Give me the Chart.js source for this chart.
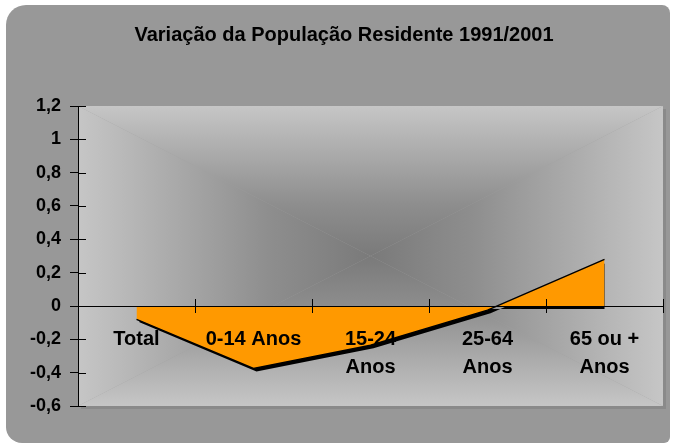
<!DOCTYPE html>
<html>
<head>
<meta charset="utf-8">
<script src="https://cdn.jsdelivr.net/npm/chart.js@4"></script>
<style>
  body { margin: 0; background: #fff; }
  #caixa {
    position: absolute; left: 6px; top: 5px;
    width: 664px; height: 438px;
    background: #989898;
    border-radius: 20px 8px 6px 16px;
    overflow: hidden;
  }
</style>
</head>
<body>
<div id="caixa"><canvas id="grafico" width="664" height="438"></canvas></div>
<script>
// dados
const titulo = 'Variação da População Residente 1991/2001';
const categorias = ['Total', '0-14 Anos', ['15-24', 'Anos'], ['25-64', 'Anos'], ['65 ou +', 'Anos']];
const variacao = [-0.08, -0.375, -0.235, -0.025, 0.28];
const eixoMin = -0.6;
const eixoMax = 1.2;
const eixoPasso = 0.2;

const fonte = "'Liberation Sans', Arial, sans-serif";

// fundo da área do gráfico: gradiente rectangular a partir do centro
const fundoPlot = {
    id: 'fundoPlot',
    beforeDraw(chart) {
        const { ctx, chartArea: a } = chart;
        const cx = (a.left + a.right) / 2, cy = (a.top + a.bottom) / 2;
        ctx.save();
        ctx.fillStyle = '#8a8a8a';
        ctx.fillRect(a.left + 3, a.top + 3, a.right - a.left, a.bottom - a.top);
        ctx.fillStyle = '#a0a0a0';
        ctx.fillRect(a.left, a.top, a.right - a.left, a.bottom - a.top);
        const tri = (x1, y1, x2, y2, gx, gy) => {
            const g = ctx.createLinearGradient(cx, cy, gx, gy);
            g.addColorStop(0, '#7a7a7a');
            g.addColorStop(0.35, '#8e8e8e');
            g.addColorStop(1, '#c6c6c6');
            ctx.fillStyle = g;
            ctx.beginPath();
            ctx.moveTo(cx, cy);
            ctx.lineTo(x1, y1);
            ctx.lineTo(x2, y2);
            ctx.closePath();
            ctx.fill();
        };
        tri(a.left, a.top, a.right, a.top, cx, a.top);
        tri(a.right, a.top, a.right, a.bottom, a.right, cy);
        tri(a.right, a.bottom, a.left, a.bottom, cx, a.bottom);
        tri(a.left, a.bottom, a.left, a.top, a.left, cy);
        ctx.restore();
    }
};

// sombra preta deslocada só sob o preenchimento da área
const sombra = {
    id: 'sombra',
    beforeDatasetsDraw(chart) {
        const c = chart.ctx;
        c.save();
        c.shadowColor = '#000';
        c.shadowOffsetX = 3;
        c.shadowOffsetY = 3;
        c.shadowBlur = 0;
    },
    beforeDatasetDraw(chart) {
        // o preenchimento já foi desenhado pelo filler; a linha fica sem sombra
        chart.ctx.shadowColor = 'rgba(0,0,0,0)';
    },
    afterDatasetsDraw(chart) {
        chart.ctx.restore();
    }
};

// marcas que atravessam os eixos (parte interior)
const marcas = {
    id: 'marcas',
    afterDraw(chart) {
        const { ctx, scales: { x, y }, chartArea: a } = chart;
        ctx.save();
        ctx.strokeStyle = '#000';
        ctx.lineWidth = 1;
        ctx.beginPath();
        y.ticks.forEach((t, i) => {
            const py = Math.round(y.getPixelForTick(i)) + 0.5;
            ctx.moveTo(a.left, py);
            ctx.lineTo(a.left + 8, py);
        });
        const y0 = y.getPixelForValue(0);
        for (let i = 0; i <= x.ticks.length; i++) {
            const px = Math.round(x.getPixelForValue(i - 0.5)) + 0.5;
            ctx.moveTo(px, y0 - 7);
            ctx.lineTo(px, y0);
        }
        ctx.stroke();
        ctx.restore();
    }
};

new Chart(document.getElementById('grafico'), {
    type: 'line',
    data: {
        labels: categorias,
        datasets: [{
            data: variacao,
            fill: 'origin',
            backgroundColor: '#ff9900',
            borderColor: '#000',
            borderWidth: 1.5,
            pointRadius: 0,
            tension: 0
        }]
    },
    options: {
        responsive: false,
        animation: false,
        layout: { padding: { left: 19, right: 7, top: 0, bottom: 37 } },
        plugins: {
            legend: { display: false },
            tooltip: { enabled: false },
            title: {
                display: true,
                text: titulo,
                color: '#000',
                font: { family: fonte, size: 20, weight: 'bold' },
                padding: { top: 18, bottom: 59 }
            }
        },
        scales: {
            x: {
                position: { y: 0 },
                offset: true,
                grid: { offset: true, drawOnChartArea: false, tickLength: 6, color: '#000', z: 1 },
                border: { color: '#000', width: 1, z: 1 },
                ticks: {
                    z: 1,
                    color: '#000',
                    padding: 13,
                    maxRotation: 0,
                    autoSkip: false,
                    font: { family: fonte, size: 20, weight: 'bold', lineHeight: 1.4 }
                }
            },
            y: {
                min: eixoMin,
                max: eixoMax,
                afterFit(s) { s.width = 53; },
                grid: { drawOnChartArea: false, tickLength: 8, color: '#000' },
                border: { color: '#000', width: 1 },
                ticks: {
                    stepSize: eixoPasso,
                    color: '#000',
                    padding: 9,
                    font: { family: fonte, size: 18, weight: 'bold' },
                    callback: v => String(Number(v.toFixed(1))).replace('.', ',')
                }
            }
        }
    },
    plugins: [fundoPlot, sombra, marcas]
});
</script>
</body>
</html>
